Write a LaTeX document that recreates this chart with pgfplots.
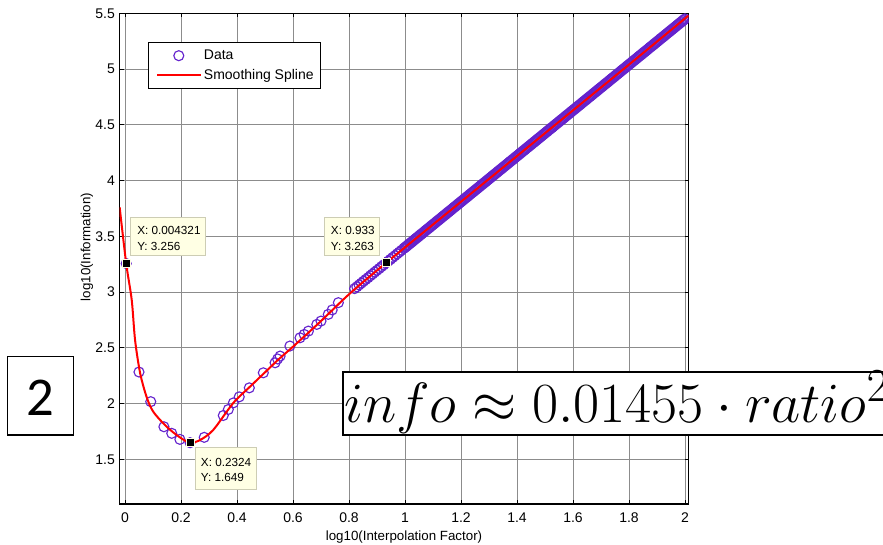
\documentclass[border=0pt]{standalone}
\usepackage{fontspec}
\setmainfont{Liberation Sans}
\newfontfamily\calibrifont{Carlito}
\usepackage{graphicx}
\usepackage{pgfplots}
\pgfplotsset{compat=1.18}
\definecolor{datacol}{RGB}{100,35,205}
\definecolor{tipfill}{RGB}{255,255,228}
\definecolor{tipdraw}{RGB}{205,205,180}
\definecolor{gridcol}{RGB}{140,140,140}
\pgfplotstableread{
x y
0.004321 3.256
0.05 2.283
0.092 2.017
0.139 1.792
0.167 1.733
0.196 1.679
0.2324 1.649
0.283 1.697
0.351 1.893
0.369 1.947
0.387 2.006
0.408 2.060
0.444 2.141
0.494 2.276
0.536 2.366
0.545 2.40
0.554 2.426
0.589 2.516
0.625 2.590
0.640 2.62
0.655 2.650
0.685 2.710
0.700 2.74
0.726 2.800
0.740 2.84
0.762 2.905
0.820 3.031
0.828 3.047
0.836 3.064
0.844 3.080
0.852 3.097
0.860 3.113
0.868 3.129
0.876 3.146
0.884 3.162
0.892 3.179
0.900 3.195
0.908 3.211
0.916 3.228
0.924 3.244
0.933 3.263
0.940 3.277
0.948 3.293
0.956 3.310
0.964 3.326
0.972 3.343
0.980 3.359
0.988 3.375
0.996 3.392
1.000 3.400
1.004 3.408
1.008 3.416
1.012 3.425
1.016 3.433
1.020 3.441
1.024 3.449
1.028 3.457
1.032 3.466
1.036 3.474
1.040 3.482
1.044 3.490
1.048 3.498
1.052 3.507
1.056 3.515
1.060 3.523
1.064 3.531
1.068 3.539
1.072 3.548
1.076 3.556
1.080 3.564
1.084 3.572
1.088 3.580
1.092 3.589
1.096 3.597
1.100 3.605
1.104 3.613
1.108 3.621
1.112 3.630
1.116 3.638
1.120 3.646
1.124 3.654
1.128 3.662
1.132 3.671
1.136 3.679
1.140 3.687
1.144 3.695
1.148 3.703
1.152 3.712
1.156 3.720
1.160 3.728
1.164 3.736
1.168 3.744
1.172 3.753
1.176 3.761
1.180 3.769
1.184 3.777
1.188 3.785
1.192 3.794
1.196 3.802
1.200 3.810
1.204 3.818
1.208 3.826
1.212 3.835
1.216 3.843
1.220 3.851
1.224 3.859
1.228 3.867
1.232 3.876
1.236 3.884
1.240 3.892
1.244 3.900
1.248 3.908
1.252 3.917
1.256 3.925
1.260 3.933
1.264 3.941
1.268 3.949
1.272 3.958
1.276 3.966
1.280 3.974
1.284 3.982
1.288 3.990
1.292 3.999
1.296 4.007
1.300 4.015
1.304 4.023
1.308 4.031
1.312 4.040
1.316 4.048
1.320 4.056
1.324 4.064
1.328 4.072
1.332 4.081
1.336 4.089
1.340 4.097
1.344 4.105
1.348 4.113
1.352 4.122
1.356 4.130
1.360 4.138
1.364 4.146
1.368 4.154
1.372 4.163
1.376 4.171
1.380 4.179
1.384 4.187
1.388 4.195
1.392 4.204
1.396 4.212
1.400 4.220
1.404 4.228
1.408 4.236
1.412 4.245
1.416 4.253
1.420 4.261
1.424 4.269
1.428 4.277
1.432 4.286
1.436 4.294
1.440 4.302
1.444 4.310
1.448 4.318
1.452 4.327
1.456 4.335
1.460 4.343
1.464 4.351
1.468 4.359
1.472 4.368
1.476 4.376
1.480 4.384
1.484 4.392
1.488 4.400
1.492 4.409
1.496 4.417
1.500 4.425
1.504 4.433
1.508 4.441
1.512 4.450
1.516 4.458
1.520 4.466
1.524 4.474
1.528 4.482
1.532 4.491
1.536 4.499
1.540 4.507
1.544 4.515
1.548 4.523
1.552 4.532
1.556 4.540
1.560 4.548
1.564 4.556
1.568 4.564
1.572 4.573
1.576 4.581
1.580 4.589
1.584 4.597
1.588 4.605
1.592 4.614
1.596 4.622
1.600 4.630
1.604 4.638
1.608 4.646
1.612 4.655
1.616 4.663
1.620 4.671
1.624 4.679
1.628 4.687
1.632 4.696
1.636 4.704
1.640 4.712
1.644 4.720
1.648 4.728
1.652 4.737
1.656 4.745
1.660 4.753
1.664 4.761
1.668 4.769
1.672 4.778
1.676 4.786
1.680 4.794
1.684 4.802
1.688 4.810
1.692 4.819
1.696 4.827
1.700 4.835
1.704 4.843
1.708 4.851
1.712 4.860
1.716 4.868
1.720 4.876
1.724 4.884
1.728 4.892
1.732 4.901
1.736 4.909
1.740 4.917
1.744 4.925
1.748 4.933
1.752 4.942
1.756 4.950
1.760 4.958
1.764 4.966
1.768 4.974
1.772 4.983
1.776 4.991
1.780 4.999
1.784 5.007
1.788 5.015
1.792 5.024
1.796 5.032
1.800 5.040
1.804 5.048
1.808 5.056
1.812 5.065
1.816 5.073
1.820 5.081
1.824 5.089
1.828 5.097
1.832 5.106
1.836 5.114
1.840 5.122
1.844 5.130
1.848 5.138
1.852 5.147
1.856 5.155
1.860 5.163
1.864 5.171
1.868 5.179
1.872 5.188
1.876 5.196
1.880 5.204
1.884 5.212
1.888 5.220
1.892 5.229
1.896 5.237
1.900 5.245
1.904 5.253
1.908 5.261
1.912 5.270
1.916 5.278
1.920 5.286
1.924 5.294
1.928 5.302
1.932 5.311
1.936 5.319
1.940 5.327
1.944 5.335
1.948 5.343
1.952 5.352
1.956 5.360
1.960 5.368
1.964 5.376
1.968 5.384
1.972 5.393
1.976 5.401
1.980 5.409
1.984 5.417
1.988 5.425
1.992 5.434
1.996 5.442
2.000 5.450
}\datatable
\pgfplotstableread{
x y
-0.019 3.76
0.004321 3.256
0.024 2.93
0.036 2.57
0.054 2.274
0.077 2.061
0.101 1.927
0.149 1.792
0.196 1.697
0.2324 1.649
0.268 1.673
0.315 1.763
0.387 2.006
0.45 2.16
0.5 2.28
0.55 2.40
0.6 2.51
0.7 2.74
0.8 2.98
0.933 3.263
1.2 3.81
1.5 4.425
1.8 5.04
2.0125 5.48
}\splinetable
\begin{document}
\begin{tikzpicture}
\begin{axis}[
  at={(89.625pt,-377.93pt)}, anchor=south west,
  scale only axis, width=426.75pt, height=367.95pt,
  xmin=-0.0196, xmax=2.0125, ymin=1.1, ymax=5.5,
  clip marker paths=true,
  xtick={0,0.2,0.4,0.6,0.8,1,1.2,1.4,1.6,1.8,2},
  ytick={1.5,2,2.5,3,3.5,4,4.5,5,5.5},
  grid=major,
  major grid style={gridcol, line width=0.5pt},
  axis line style={black, line width=0.9pt},
  tick style={black, line width=0.6pt},
  major tick length=3pt,
  tick align=inside,
  /pgf/number format/assume math mode=true,
  tick label style={font=\fontsize{10.5}{12}\selectfont},
  xticklabel style={yshift=-3pt},
  legend style={at={(0.0501,0.9415)}, anchor=north west, draw=black, line width=0.6pt,
    font=\fontsize{10.5}{12}\selectfont, inner xsep=3.3pt, inner ysep=3.6pt, row sep=1.6pt},
  legend cell align=left,
  legend image code/.code={\path[draw=none] (0pt,0pt) -- (3.4pt,0pt); \draw[mark repeat=2,mark phase=2,#1] plot coordinates {(3.4pt,0pt)(19.5pt,0pt)(35.6pt,0pt)};},
]
\addplot[only marks, mark=o, mark size=3.75pt, color=datacol, line width=0.85pt] table[x=x,y=y] {\datatable};
\addlegendentry{Data}
\addplot[red, line width=1.5pt, smooth, no marks] table[x=x,y=y] {\splinetable};
\addlegendentry{Smoothing Spline}
\addplot[forget plot, only marks, mark=square*, mark size=3pt, mark options={fill=black, draw=tipfill, line width=0.8pt}] coordinates {(0.004321,3.256) (0.2324,1.649) (0.933,3.263)};
\end{axis}
\begin{scope}[x=0.75pt, y=-0.75pt]
 \draw[tipdraw, fill=tipfill, line width=0.6pt] (130.7,217.7) rectangle (205.7,255.7);
 \node[anchor=base west, inner sep=0pt, font=\fontsize{8.8}{10}\selectfont] at (137,234.3) {X: 0.004321};
 \node[anchor=base west, inner sep=0pt, font=\fontsize{8.8}{10}\selectfont] at (137,250) {Y: 3.256};
 \draw[tipdraw, fill=tipfill, line width=0.6pt] (324,217.7) rectangle (379.3,255.7);
 \node[anchor=base west, inner sep=0pt, font=\fontsize{8.8}{10}\selectfont] at (330.7,234.3) {X: 0.933};
 \node[anchor=base west, inner sep=0pt, font=\fontsize{8.8}{10}\selectfont] at (330.7,250) {Y: 3.263};
 \draw[tipdraw, fill=tipfill, line width=0.6pt] (195,447.7) rectangle (256,489.3);
 \node[anchor=base west, inner sep=0pt, font=\fontsize{8.8}{10}\selectfont] at (200.7,466.7) {X: 0.2324};
 \node[anchor=base west, inner sep=0pt, font=\fontsize{8.8}{10}\selectfont] at (200.7,481.7) {Y: 1.649};
 \node[font=\fontsize{10}{12}\selectfont] at (404,537) {log10(Interpolation Factor)};
 \node[rotate=90, font=\fontsize{10}{12}\selectfont] at (87,247) {log10(Information)};
 \draw[line width=1.1pt] (7.3,356.3) rectangle (73.3,435);
 \node[anchor=base, inner sep=0pt, font=\calibrifont\fontsize{41}{42}\selectfont] at (40.3,415.5) {2};
 \draw[line width=1.5pt, fill=white] (342.7,371.7) rectangle (960,435);
 \node[anchor=base west, inner sep=0pt] at (344,422.6) {\scalebox{1.712}{\fontsize{24.88}{28}\selectfont $info\approx 0.01455\cdot ratio^2$}};
\end{scope}
\pgfresetboundingbox
\path[use as bounding box] (0pt,0pt) rectangle (662.25pt,-408pt);
\end{tikzpicture}
\end{document}
